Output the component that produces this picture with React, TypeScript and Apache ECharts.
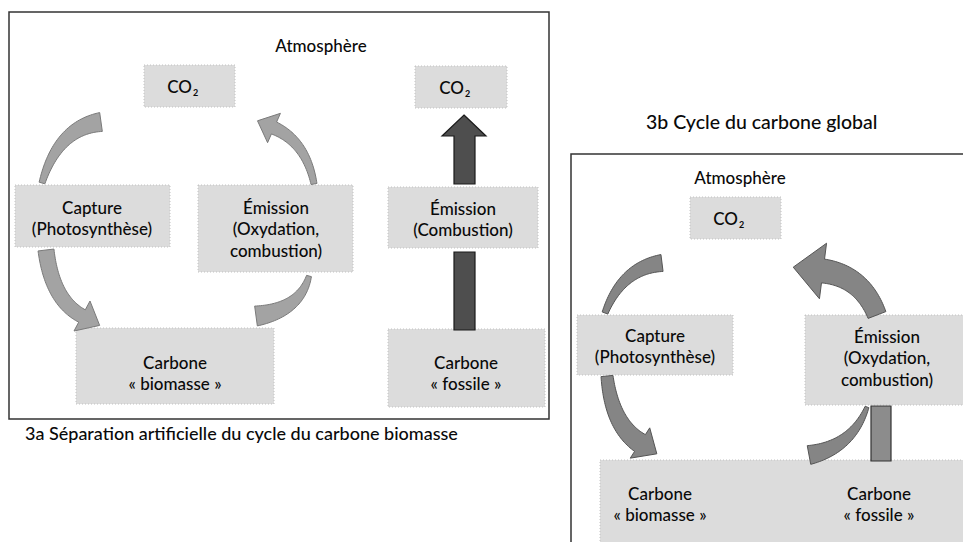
import React, { useEffect, useRef } from "react";
import * as echarts from "echarts";

// ---- texts of the diagram ----
const atmosphereLabel = "Atmosphère";
const co2Main = "CO";
const co2Sub = "2";
const captureLines = ["Capture", "(Photosynthèse)"];
const emissionLines = ["Émission", "(Oxydation,", "combustion)"];
const emissionFossilLines = ["Émission", "(Combustion)"];
const biomassLines = ["Carbone", "« biomasse »"];
const fossilLines = ["Carbone", "« fossile »"];
const captions = [
  "3a Séparation artificielle du cycle du carbone biomasse",
  "3b Cycle du carbone global",
];

const FONT = "Lato, 'Open Sans', sans-serif";
const BOX_FILL = "#dcdcdc";
const BOX_STROKE = "#c2c2c2";
const TEXT_SIZE = 17;

type P = [number, number];

function quadPt(p0: P, c: P, p1: P, t: number): P {
  const a = (1 - t) * (1 - t), b = 2 * (1 - t) * t, d = t * t;
  return [a * p0[0] + b * c[0] + d * p1[0], a * p0[1] + b * c[1] + d * p1[1]];
}
function quadTan(p0: P, c: P, p1: P, t: number): P {
  const x = 2 * (1 - t) * (c[0] - p0[0]) + 2 * t * (p1[0] - c[0]);
  const y = 2 * (1 - t) * (c[1] - p0[1]) + 2 * t * (p1[1] - c[1]);
  const l = Math.hypot(x, y) || 1;
  return [x / l, y / l];
}
function curvedArrow(p0: P, c: P, p1: P, w0: number, w1: number, head?: { len: number; width: number }) {
  const N = 40;
  const left: P[] = [];
  const right: P[] = [];
  for (let i = 0; i <= N; i++) {
    const t = i / N;
    const p = quadPt(p0, c, p1, t);
    const tg = quadTan(p0, c, p1, t);
    const n: P = [-tg[1], tg[0]];
    const w = (w0 + (w1 - w0) * t) / 2;
    left.push([p[0] + n[0] * w, p[1] + n[1] * w]);
    right.push([p[0] - n[0] * w, p[1] - n[1] * w]);
  }
  const pts: P[] = [...left];
  if (head) {
    const tg = quadTan(p0, c, p1, 1);
    const n: P = [-tg[1], tg[0]];
    const h = head.width / 2;
    pts.push([p1[0] + n[0] * h, p1[1] + n[1] * h]);
    pts.push([p1[0] + tg[0] * head.len, p1[1] + tg[1] * head.len]);
    pts.push([p1[0] - n[0] * h, p1[1] - n[1] * h]);
  }
  return pts.concat(right.reverse());
}

function box(x: number, y: number, w: number, h: number) {
  return {
    type: "rect",
    shape: { x, y, width: w, height: h },
    style: { fill: BOX_FILL, stroke: BOX_STROKE, lineWidth: 1, lineDash: [1, 2] },
  };
}
function txt(text: string, x: number, y: number, size = TEXT_SIZE, align = "center") {
  return {
    type: "text",
    x,
    y,
    style: { text, fontSize: size, fontWeight: 500, fontFamily: FONT, fill: "#0a0a0a", align, verticalAlign: "middle" },
  };
}
function lines(arr: string[], cx: number, y0: number, lh = 21.5) {
  return arr.map((s, i) => txt(s, cx, y0 + i * lh));
}
function co2(cx: number, cy: number) {
  return [
    txt(co2Main, cx + 5, cy, TEXT_SIZE, "right"),
    {
      type: "text",
      x: cx + 6,
      y: cy + 6,
      style: { text: co2Sub, fontSize: 9, fontWeight: "bold", fontFamily: FONT, fill: "#0a0a0a", align: "left", verticalAlign: "middle" },
    },
  ];
}
function arrowPoly(points: P[], fill: string, stroke: string) {
  return { type: "polygon", shape: { points }, style: { fill, stroke, lineWidth: 1 } };
}

export default function App() {
  const ref = useRef<HTMLDivElement>(null);
  useEffect(() => {
    if (!ref.current) return;
    const chart = echarts.init(ref.current, undefined, { renderer: "svg" });
    const lightArrow = "#a3a3a3";
    const lightStroke = "#7a7a7a";
    const midArrow = "#858585";
    const midStroke = "#555";
    const elements: any[] = [
      // ----- panel 3a -----
      { type: "rect", shape: { x: 9, y: 12, width: 540, height: 407 }, style: { fill: "#fff", stroke: "#333", lineWidth: 1.5 } },
      box(144, 65, 91, 42),
      box(415, 66, 92, 42),
      box(15, 185, 155, 62),
      box(198, 185, 155, 87),
      box(388, 187, 150, 61),
      box(76, 328, 198, 76),
      box(388, 329, 157, 78),
      arrowPoly(curvedArrow([42, 183], [58, 128], [101, 122], 6, 19), lightArrow, lightStroke),
      arrowPoly(curvedArrow([46, 250], [52, 300], [82, 316], 16, 14, { len: 20, width: 34 }), lightArrow, lightStroke),
      arrowPoly(curvedArrow([314, 184], [306, 142], [274, 128], 6, 13, { len: 18, width: 32 }), lightArrow, lightStroke),
      arrowPoly(curvedArrow([309, 276], [300, 310], [256, 316], 5, 20), lightArrow, lightStroke),
      {
        type: "polygon",
        shape: { points: [[464, 115], [486, 136], [475, 136], [475, 184], [454, 184], [454, 136], [442, 136]] },
        style: { fill: "#4e4e4e", stroke: "#1a1a1a", lineWidth: 1.2 },
      },
      { type: "rect", shape: { x: 454, y: 252, width: 21, height: 78 }, style: { fill: "#4e4e4e", stroke: "#1a1a1a", lineWidth: 1.2 } },
      txt(atmosphereLabel, 321, 45),
      ...co2(187, 86),
      ...co2(459, 87),
      ...lines(captureLines, 92, 207),
      ...lines(emissionLines, 276, 207),
      ...lines(emissionFossilLines, 463, 208),
      ...lines(biomassLines, 175, 362),
      ...lines(fossilLines, 466, 362),
      txt(captions[0], 25, 433, 18, "left"),

      // ----- panel 3b -----
      txt(captions[1], 646, 121, 19.5, "left"),
      { type: "rect", shape: { x: 571, y: 154, width: 420, height: 420 }, style: { fill: "#fff", stroke: "#333", lineWidth: 1.5 } },
      box(690, 197, 91, 42),
      box(577, 315, 156, 60),
      box(805, 315, 170, 90),
      box(600, 460, 375, 90),
      arrowPoly(curvedArrow([605, 313], [622, 268], [662, 263], 6, 17), midArrow, midStroke),
      arrowPoly(curvedArrow([877, 315], [862, 276], [823, 271], 19, 24, { len: 30, width: 56 }), midArrow, midStroke),
      arrowPoly(curvedArrow([607, 376], [612, 425], [640, 443], 12, 20, { len: 20, width: 36 }), midArrow, midStroke),
      arrowPoly(curvedArrow([867, 407], [852, 447], [809, 455], 4, 19), midArrow, midStroke),
      { type: "rect", shape: { x: 871, y: 406, width: 20, height: 55 }, style: { fill: "#8c8c8c", stroke: "#333", lineWidth: 1.2 } },
      txt(atmosphereLabel, 740, 177),
      ...co2(733, 218),
      ...lines(captureLines, 655, 335),
      ...lines(emissionLines, 887, 336),
      ...lines(biomassLines, 660, 493),
      ...lines(fossilLines, 879, 493),
    ];
    chart.setOption({
      animation: false,
      backgroundColor: "#ffffff",
      graphic: { elements },
    });
    return () => chart.dispose();
  }, []);
  return (
    <div
      ref={ref}
      style={{ position: "fixed", left: 0, top: 0, width: 963, height: 542, background: "#fff" }}
    />
  );
}
